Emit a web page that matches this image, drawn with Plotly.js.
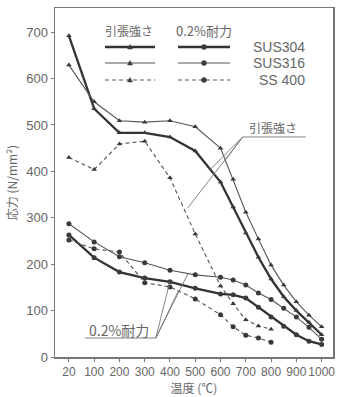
<!DOCTYPE html>
<html><head><meta charset="utf-8">
<script src="https://cdn.plot.ly/plotly-3.0.1.min.js"></script>
<style>html,body{margin:0;padding:0;background:#fff}#chart{width:340px;height:397px}</style>
</head><body><div id="chart"></div>
<script>
// Temperatures (°C)
const tempsSUS = [20,100,200,300,400,500,600,650,700,750,800,850,900,950,1000];
const tempsSS = [20,100,200,300,400,500,600,650,700,750,800];
// Tensile strength (引張強さ), N/mm²
const tensileSUS304 = [692,535,483,483,474,444,377,323,267,215,168,130,100,75,48];
const tensileSUS316 = [629,550,509,506,509,496,450,383,312,254,198,155,119,90,65];
const tensileSS400  = [430,404,459,465,386,265,153,115,80,67,60];
// 0.2% proof stress (0.2%耐力), N/mm²
const proofSUS304 = [263,214,183,170,162,148,136,134,127,107,86,66,48,34,27];
const proofSUS316 = [287,248,216,203,187,177,172,166,155,138,124,105,86,64,38];
const proofSS400  = [252,233,226,160,151,125,91,65,47,41,32];
// Axis ticks
const xTickTemps = [20,100,200,300,400,500,600,700,800,900,1000];
const yTicks = [0,100,200,300,400,500,600,700];
const seriesNames = ['SUS304','SUS316','SS 400'];

// category-like axis: 20 and 100 one step apart, then 100 per step
function pos(t){ return t < 100 ? (t-20)/80 : t/100; }

const ink = '#3a3a3a';
const grey = '#666';
const DASH = '4px,3px';
function tr(temps, vals, width, dash, symbol, color){
  return {x: temps.map(pos), y: vals, type:'scatter', mode:'lines+markers',
    line:{color:color, width:width, dash:dash},
    marker:{symbol:symbol, size:5, color:ink},
    showlegend:false, hoverinfo:'skip'};
}
const data = [
  tr(tempsSUS, tensileSUS304, 2.3, 'solid', 'triangle-up', '#333'),
  tr(tempsSUS, tensileSUS316, 1.1, 'solid', 'triangle-up', '#555'),
  tr(tempsSS, tensileSS400, 1.1, DASH, 'triangle-up', '#555'),
  tr(tempsSUS, proofSUS304, 2.3, 'solid', 'circle', '#333'),
  tr(tempsSUS, proofSUS316, 1.1, 'solid', 'circle', '#555'),
  tr(tempsSS, proofSS400, 1.1, DASH, 'circle', '#555')
];

// paper-coordinate helpers (plot area: x 55..333, y 8..357 px)
const px = v => (v-55)/278, py = v => (357-v)/349;

const shapes = [];
const annotations = [];
const rowsY = [47,63,80];
const styles = [{w:2.3,d:'solid',c:'#333'},{w:1.1,d:'solid',c:'#555'},{w:1.1,d:DASH,c:'#555'}];
rowsY.forEach((ry,i)=>{
  const s = styles[i];
  shapes.push({type:'line', xref:'paper', yref:'paper', x0:px(105), x1:px(155), y0:py(ry), y1:py(ry), line:{color:s.c,width:s.w,dash:s.d}});
  shapes.push({type:'line', xref:'paper', yref:'paper', x0:px(178), x1:px(230), y0:py(ry), y1:py(ry), line:{color:s.c,width:s.w,dash:s.d}});
  shapes.push({type:'path', xref:'paper', yref:'paper', path:`M ${px(127.5)} ${py(ry+2)} L ${px(132.5)} ${py(ry+2)} L ${px(130)} ${py(ry-2.5)} Z`, fillcolor:ink, line:{color:ink,width:0.5}});
  shapes.push({type:'circle', xref:'paper', yref:'paper', x0:px(201.5), x1:px(206.5), y0:py(ry+2.5), y1:py(ry-2.5), fillcolor:ink, line:{color:ink,width:0.5}});
  annotations.push({xref:'paper', yref:'paper', x:px(307), y:py(ry), text:seriesNames[i], showarrow:false, xanchor:'right', yanchor:'middle', font:{family:'Liberation Sans Narrow, Arial, sans-serif', size:14, color:grey}});
});
const jpFont = {family:'Noto Sans CJK JP, sans-serif', size:12, color:grey};
annotations.push({xref:'paper', yref:'paper', x:px(129), y:py(31), xanchor:'center', yanchor:'middle', text:'引張強さ', showarrow:false, font:jpFont});
annotations.push({xref:'paper', yref:'paper', x:px(204), y:py(31), xanchor:'center', yanchor:'middle', text:'0.2%耐力', showarrow:false, font:{family:'Liberation Sans Narrow, Noto Sans CJK JP, sans-serif', size:13, color:grey}});

// callout labels with leader lines
annotations.push({xref:'x', yref:'y', x:(273-69)/25.3, y:(357-128)/0.464, xanchor:'center', yanchor:'middle', text:'引張強さ', showarrow:false, font:jpFont});
annotations.push({xref:'x', yref:'y', x:(119-69)/25.3, y:(357-330)/0.464, xanchor:'center', yanchor:'middle', text:'0.2%耐力', showarrow:false, font:{family:'Liberation Sans Narrow, Noto Sans CJK JP, sans-serif', size:14, color:grey}});
function lead(x0,y0,x1,y1){ // pixel coordinates converted to data coords
  shapes.push({type:'line', xref:'x', yref:'y', x0:(x0-69)/25.3, y0:(357-y0)/0.464, x1:(x1-69)/25.3, y1:(357-y1)/0.464, line:{color:'#777', width:0.9}});
}
lead(243,137,306,137);
lead(243,137,188,208); lead(243,137,210,170); lead(243,137,225,161);
lead(85,338,156,338);
lead(156,338,170,282); lead(156,338,179,290); lead(156,338,188,274);

const tickFont = {family:'Liberation Sans Narrow, Arial Narrow, sans-serif', size:12, color:grey};
const layout = {
  width:340, height:397,
  margin:{l:55, r:7, t:8, b:40},
  paper_bgcolor:'#fff', plot_bgcolor:'#fff',
  xaxis:{type:'linear', range:[-0.55,10.45], tickvals:xTickTemps.map(pos), ticktext:xTickTemps.map(String),
    tickangle:0, automargin:false,
    showgrid:false, zeroline:false, showline:true, mirror:true, linecolor:'#777', linewidth:1.5,
    ticks:'outside', ticklen:3, tickcolor:'#777', tickfont:tickFont,
    title:{text:'温度 (℃)', font:{family:'Noto Sans CJK JP, sans-serif', size:12, color:grey}, standoff:2}},
  yaxis:{range:[0,752], tickvals:yTicks, ticktext:yTicks.map(String), automargin:false,
    showgrid:false, zeroline:false, showline:true, mirror:true, linecolor:'#777', linewidth:1.5,
    ticks:'outside', ticklen:3, tickcolor:'#777', tickfont:{family:tickFont.family, size:13, color:grey},
    title:{text:'応力 (N/mm²)', font:{family:'Noto Sans CJK JP, sans-serif', size:12, color:grey}, standoff:6}},
  shapes:shapes, annotations:annotations, showlegend:false
};
Plotly.newPlot('chart', data, layout, {staticPlot:true, displayModeBar:false});
</script></body></html>
